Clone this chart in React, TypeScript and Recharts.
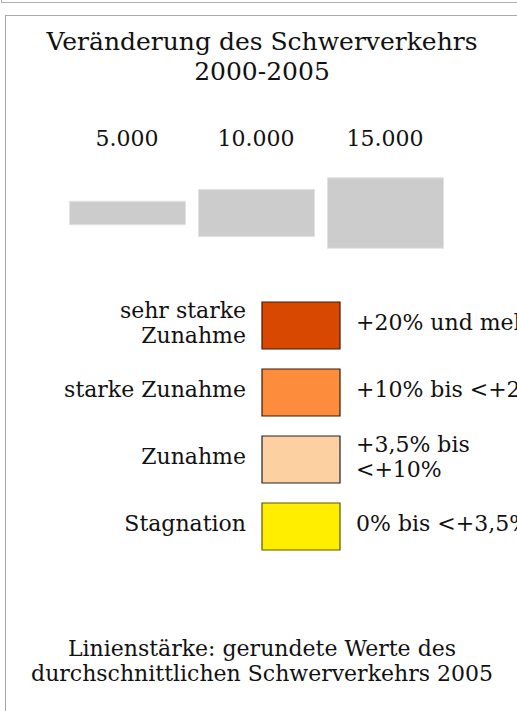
import { BarChart, Bar, XAxis, YAxis, Cell, LabelList } from "recharts";

// line width legend (average heavy traffic 2005)
const sizeLabels = ["5.000", "10.000", "15.000"];
const sizeValues = [5000, 10000, 15000];

// change classes 2000-2005
const classLabels = ["sehr starke\nZunahme", "starke Zunahme", "Zunahme", "Stagnation"];
const classRanges = ["+20% und mehr", "+10% bis <+20%", "+3,5% bis\n<+10%", "0% bis <+3,5%"];
const classColors = ["#d94801", "#fd8d3c", "#fdd0a2", "#ffee00"];
const classStrokes = ["#4a1800", "#3a1c00", "#222222", "#5c5600"];
const swatchValues = [1, 1, 1, 1];

const FONT = "'DejaVu Serif', serif";
const TEXT = "#111";

const sizeData = sizeLabels.map((label, i) => ({
  label,
  // symmetric band around the centre line, thickness = value
  band: [-sizeValues[i] / 2, sizeValues[i] / 2],
}));

const classData = classLabels.map((label, i) => ({
  label,
  range: classRanges[i],
  swatch: swatchValues[i],
}));

function MultiLineTick(props: any) {
  const { x, y, payload } = props;
  const lines = String(payload.value).split("\n");
  const first = y + 4.5 - ((lines.length - 1) * 25) / 2;
  return (
    <text x={x} y={first} textAnchor="end" fontSize={22} fill={TEXT}>
      {lines.map((l, i) => (
        <tspan key={i} x={x} y={first + i * 25}>
          {l}
        </tspan>
      ))}
    </text>
  );
}

function RangeLabel(props: any) {
  const { x, y, width, height, value } = props;
  const lines = String(value).split("\n");
  const tx = x + width + 16;
  const first = y + height / 2 + 4.5 - ((lines.length - 1) * 25) / 2;
  return (
    <text x={tx} y={first} textAnchor="start" fontSize={22} fill={TEXT}>
      {lines.map((l, i) => (
        <tspan key={i} x={tx} y={first + i * 25}>
          {l}
        </tspan>
      ))}
    </text>
  );
}

export default function App() {
  return (
    <div
      style={{
        position: "absolute",
        left: 0,
        top: 0,
        width: 517,
        height: 711,
        overflow: "hidden",
        background: "#fff",
        fontFamily: FONT,
        color: TEXT,
      }}
    >
      {/* frames */}
      <div
        style={{
          position: "absolute",
          left: 1,
          top: -20,
          width: 600,
          height: 23,
          boxSizing: "border-box",
          border: "1px solid #b0b0b0",
        }}
      />
      <div
        style={{
          position: "absolute",
          left: 5,
          top: 15,
          width: 520,
          height: 720,
          boxSizing: "border-box",
          border: "1px solid #aaa",
        }}
      />

      {/* title */}
      <div
        style={{
          position: "absolute",
          left: 5,
          top: 27,
          width: 514,
          textAlign: "center",
          fontSize: 25,
          lineHeight: "30px",
        }}
      >
        Veränderung des Schwerverkehrs
        <br />
        2000-2005
      </div>

      {/* line width legend */}
      <div style={{ position: "absolute", left: 0, top: 0 }}>
        <BarChart
          width={517}
          height={300}
          data={sizeData}
          margin={{ top: 126, right: 67.5, bottom: 40, left: 62.5 }}
          barSize={116}
        >
          <XAxis
            dataKey="label"
            orientation="top"
            height={40}
            axisLine={false}
            tickLine={false}
            tickSize={0}
            tickMargin={20}
            interval={0}
            tick={{ fontSize: 22, fill: TEXT }}
          />
          <YAxis type="number" domain={[-10000, 10000]} hide />
          <Bar dataKey="band" fill="#cccccc" stroke="#e2e2e2" strokeWidth={1} isAnimationActive={false} />
        </BarChart>
      </div>

      {/* colour classes */}
      <div style={{ position: "absolute", left: 0, top: 272 }}>
        <BarChart
          width={600}
          height={308}
          data={classData}
          layout="vertical"
          margin={{ top: 20, right: 260, bottom: 20, left: 0 }}
          barSize={47}
        >
          <XAxis type="number" domain={[0, 1]} hide />
          <YAxis
            type="category"
            dataKey="label"
            width={262}
            axisLine={false}
            tickLine={false}
            tickSize={0}
            tickMargin={16}
            interval={0}
            tick={(p: any) => <MultiLineTick {...p} />}
          />
          <Bar dataKey="swatch" strokeWidth={1.2} isAnimationActive={false}>
            {classData.map((_, i) => (
              <Cell key={i} fill={classColors[i]} stroke={classStrokes[i]} />
            ))}
            <LabelList dataKey="range" content={(p: any) => <RangeLabel {...p} />} />
          </Bar>
        </BarChart>
      </div>

      {/* note */}
      <div
        style={{
          position: "absolute",
          left: 5,
          top: 636,
          width: 514,
          textAlign: "center",
          fontSize: 22,
          lineHeight: "25px",
        }}
      >
        Linienstärke: gerundete Werte des
        <br />
        durchschnittlichen Schwerverkehrs 2005
      </div>
    </div>
  );
}
